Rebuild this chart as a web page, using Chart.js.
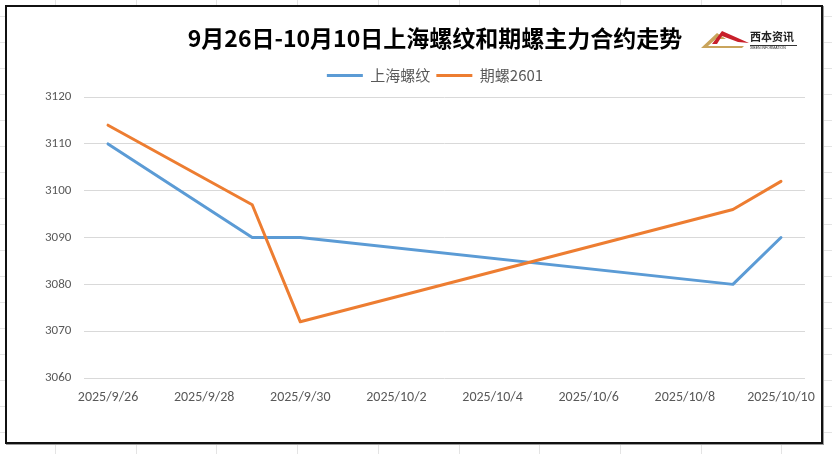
<!DOCTYPE html>
<html>
<head>
<meta charset="utf-8">
<script src="https://cdn.jsdelivr.net/npm/chart.js@4.4.1/dist/chart.umd.min.js"></script>
<style>
  html, body { margin: 0; padding: 0; }
  body {
    width: 832px; height: 454px; position: relative; overflow: hidden;
    background-color: #fff;
    background-image:
      repeating-linear-gradient(90deg, transparent 0 55px, #e4e4e4 55px 56px, transparent 56px 80.7px),
      repeating-linear-gradient(180deg, transparent 0 16px, #e4e4e4 16px 17px, transparent 17px 26px);
  }
  #frame {
    position: absolute; left: 5px; top: 5px; width: 818px; height: 439px;
    box-sizing: border-box; border: 2px solid #111; background: #fff;
    box-shadow: 1px 1px 0 #9a9a9a;
  }
  #chart { position: absolute; left: 0; top: 0; }
</style>
</head>
<body>
<div id="frame"></div>
<canvas id="chart" width="832" height="454"></canvas>
<script>
// data
const titleText = '9月26日-10月10日上海螺纹和期螺主力合约走势';
const seriesNames = ['上海螺纹', '期螺2601'];
const dates = ['2025/9/26', '2025/9/29', '2025/9/30', '2025/10/9', '2025/10/10'];
const shRebar = [3110, 3090, 3090, 3080, 3090];
const rb2601 = [3114, 3097, 3072, 3096, 3102];
const tickLabels = ['2025/9/26', '2025/9/28', '2025/9/30', '2025/10/2', '2025/10/4', '2025/10/6', '2025/10/8', '2025/10/10'];
const yTicks = [3060, 3070, 3080, 3090, 3100, 3110, 3120];

const COLOR_BLUE = '#5B9BD5';
const COLOR_ORANGE = '#ED7D31';
const COLOR_TEXT = '#595959';
const COLOR_GRID = '#d9d9d9';

// day number counted from the first date
function dayOf(s) {
  const [y, m, d] = s.split('/').map(Number);
  return Date.UTC(y, m - 1, d);
}
const day0 = dayOf(dates[0]);
const toDay = s => Math.round((dayOf(s) - day0) / 86400000);

const points = arr => arr.map((v, i) => ({ x: toDay(dates[i]), y: v }));

// a bit more room between the legend and the plot
const legendGapPlugin = {
  id: 'legendGap',
  beforeUpdate: (chart) => {
    const lg = chart.legend;
    if (lg && !lg._gapPatched) {
      const fit = lg.fit;
      lg.fit = function () { fit.call(this); this.height += 4; };
      lg._gapPatched = true;
    }
  }
};

// small logo in the top right corner
const logoPlugin = {
  id: 'logo',
  afterDraw: (chart) => {
    const ctx = chart.ctx;
    ctx.save();
    // gold ridge
    ctx.fillStyle = '#c9a45c';
    ctx.beginPath();
    ctx.moveTo(701, 48);
    ctx.lineTo(717, 33);
    ctx.lineTo(726, 39);
    ctx.lineTo(716, 39);
    ctx.lineTo(708, 46);
    ctx.lineTo(744, 46);
    ctx.lineTo(742, 48);
    ctx.closePath();
    ctx.fill();
    // red ridge
    ctx.fillStyle = '#c8202a';
    ctx.beginPath();
    ctx.moveTo(712, 44);
    ctx.lineTo(722, 31);
    ctx.lineTo(749, 43);
    ctx.lineTo(738, 42);
    ctx.lineTo(722, 36);
    ctx.lineTo(717, 44);
    ctx.closePath();
    ctx.fill();
    // name
    ctx.fillStyle = '#222';
    ctx.font = 'bold 11px "Noto Sans CJK SC"';
    ctx.textBaseline = 'middle';
    ctx.fillText('西本资讯', 750, 37);
    ctx.strokeStyle = '#333';
    ctx.lineWidth = 1;
    ctx.beginPath();
    ctx.moveTo(750, 45.5);
    ctx.lineTo(797, 45.5);
    ctx.stroke();
    ctx.font = '3.5px "Liberation Sans"';
    ctx.fillText('XIBEN INFORMATION', 750, 48);
    ctx.restore();
  }
};

new Chart(document.getElementById('chart'), {
  type: 'line',
  data: {
    datasets: [
      {
        label: seriesNames[0],
        data: points(shRebar),
        borderColor: COLOR_BLUE,
        backgroundColor: COLOR_BLUE,
        borderWidth: 3,
        pointRadius: 0,
        tension: 0,
        borderCapStyle: 'round',
        borderJoinStyle: 'round',
        order: 2
      },
      {
        label: seriesNames[1],
        data: points(rb2601),
        borderColor: COLOR_ORANGE,
        backgroundColor: COLOR_ORANGE,
        borderWidth: 3,
        pointRadius: 0,
        tension: 0,
        borderCapStyle: 'round',
        borderJoinStyle: 'round',
        order: 1
      }
    ]
  },
  plugins: [legendGapPlugin, logoPlugin],
  options: {
    responsive: false,
    animation: false,
    devicePixelRatio: 1,
    // left padding keeps the title and legend centred where the original has them
    layout: { padding: { left: 65, right: 27, top: 0, bottom: 46 } },
    scales: {
      x: {
        type: 'linear',
        min: -0.5,
        max: toDay(dates[dates.length - 1]) + 0.5,
        afterBuildTicks: axis => { axis.ticks = tickLabels.map(t => ({ value: toDay(t) })); },
        afterFit: axis => { axis.height = 30; },
        grid: { display: false, drawTicks: false },
        border: { display: false },
        ticks: {
          color: COLOR_TEXT,
          padding: 11,
          maxRotation: 0,
          autoSkip: false,
          font: { family: 'Carlito, "Liberation Sans"', size: 14 },
          callback: (value) => tickLabels.find(t => toDay(t) === value) || ''
        }
      },
      y: {
        min: yTicks[0],
        max: yTicks[yTicks.length - 1],
        afterBuildTicks: axis => { axis.ticks = yTicks.map(v => ({ value: v })); },
        afterFit: axis => { axis.width = 19; },
        grid: { color: COLOR_GRID, lineWidth: 1, drawTicks: false },
        border: { display: false },
        ticks: {
          color: COLOR_TEXT,
          mirror: true,
          crossAlign: 'near',
          padding: -39,
          font: { family: 'Carlito, "Liberation Sans"', size: 13 },
          callback: (value) => String(value)
        }
      }
    },
    plugins: {
      title: {
        display: true,
        text: titleText,
        color: '#000',
        font: { family: '"Noto Sans CJK SC"', size: 23, weight: 'bold', lineHeight: 1.2 },
        padding: { top: 24, bottom: 10.5 }
      },
      legend: {
        display: true,
        position: 'top',
        labels: {
          usePointStyle: true,
          pointStyle: 'line',
          pointStyleWidth: 36,
          boxHeight: 14,
          padding: 6,
          color: COLOR_TEXT,
          font: { family: '"Noto Sans CJK SC"', size: 15 },
          sort: (a, b) => a.datasetIndex - b.datasetIndex
        }
      },
      tooltip: { enabled: false }
    }
  }
});
</script>
</body>
</html>
